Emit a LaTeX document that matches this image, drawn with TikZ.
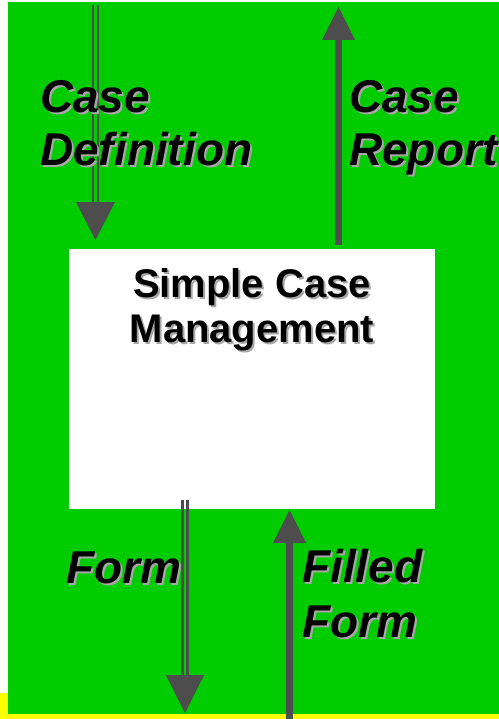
\documentclass[tikz,border=0pt]{standalone}
\usepackage{fontspec}
\setmainfont{Liberation Sans}
\definecolor{bggreen}{HTML}{00CC00}
\definecolor{bgyellow}{HTML}{FFFF00}
\definecolor{arrowgray}{HTML}{4D4D4D}
\definecolor{shadowgray}{HTML}{A8A8A8}
\newcommand{\shadowed}[1]{\makebox[0pt][l]{\hspace{2bp}\raisebox{-2bp}{\textcolor{shadowgray}{#1}}}#1}
\tikzset{
  lbl/.style={font=\fontsize{46bp}{52bp}\selectfont\bfseries\itshape, inner sep=0pt, anchor=base west, text=black},
  ttl/.style={font=\fontsize{40bp}{45bp}\selectfont\bfseries, inner sep=0pt, anchor=base, text=black},
  rail/.style={draw=arrowgray, line width=2.2bp},
  sgl/.style={draw=arrowgray, line width=7bp},
  headfill/.style={fill=arrowgray}
}
\begin{document}
\begin{tikzpicture}[x=1bp,y=-1bp]
\useasboundingbox (0,0) rectangle (499,719);
% background
\fill[white] (0,0) rectangle (499,719);
\fill[bgyellow] (0,693) rectangle (499,719);
\fill[bggreen] (8,2) rectangle (499,714);
% box
\node[fill=white, minimum width=366bp, minimum height=260bp, inner sep=0pt, anchor=north west] (box) at (69,249) {};
% title
\node[ttl] (t1) at (252,297) {\shadowed{Simple Case}};
\node[ttl] (t2) at (252,342) {\shadowed{Management}};

% coordinates for connectors
\coordinate (cdTop) at (95.5,5);
\coordinate (cdHead) at (95.5,203);
\coordinate (crBot) at (338.5,245);
\coordinate (crHead) at (338.5,40);
\coordinate (fTop) at (185,500);
\coordinate (fHead) at (185,676);
\coordinate (ffBot) at (289.5,719);
\coordinate (ffHead) at (289.5,543);

% Case Definition (double, down)
\draw[rail] ([xshift=-2.5bp]cdTop) -- ([xshift=-2.5bp]cdHead);
\draw[rail] ([xshift=2.5bp]cdTop) -- ([xshift=2.5bp]cdHead);
\fill[headfill] (cdHead) ++(-19.5,-1) -- ++(39,0) -- ++(-19.5,38) -- cycle;
% Case Report (single, up)
\draw[sgl] (crBot) -- (crHead);
\fill[headfill] (crHead) ++(-16.5,0) -- ++(33,0) -- ++(-16.5,-33) -- cycle;
% Form (double, down)
\draw[rail] ([xshift=-2.5bp]fTop) -- ([xshift=-2.5bp]fHead);
\draw[rail] ([xshift=2.5bp]fTop) -- ([xshift=2.5bp]fHead);
\fill[headfill] (fHead) ++(-19,-1) -- ++(38,0) -- ++(-19,38) -- cycle;
% Filled Form (single, up)
\draw[sgl] (ffBot) -- (ffHead);
\fill[headfill] (ffHead) ++(-16.5,0) -- ++(33,0) -- ++(-16.5,-33) -- cycle;

% labels
\node[lbl] (cd1) at (40,113) {\shadowed{Case}};
\node[lbl] (cd2) at (40,165) {\shadowed{Definition}};
\node[lbl] (cr1) at (349,113) {\shadowed{Case}};
\node[lbl] (cr2) at (349,165) {\shadowed{Report}};
\node[lbl] (fm) at (66,583) {\shadowed{Form}};
\node[lbl] (ff1) at (302,582) {\shadowed{Filled}};
\node[lbl] (ff2) at (302,637) {\shadowed{Form}};
\end{tikzpicture}
\end{document}
